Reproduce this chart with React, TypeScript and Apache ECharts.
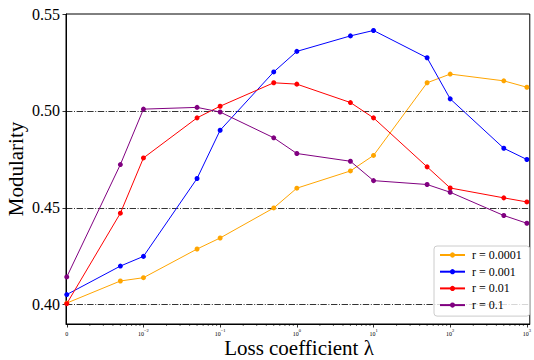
import React, { useEffect, useRef } from 'react';
import * as echarts from 'echarts';

// λ values (0 is drawn at the 10^-3 position of the axis)
const lambdas = [0, 0.005, 0.01, 0.05, 0.1, 0.5, 1, 5, 10, 50, 100, 500, 1000];
const seriesNames = ['r = 0.0001', 'r = 0.001', 'r = 0.01', 'r = 0.1'];
const seriesColors = ['#FFA500', '#0000FF', '#FF0000', '#800080'];
const r0001 = [0.4008, 0.4122, 0.4139, 0.4287, 0.4344, 0.4499, 0.4601, 0.469, 0.477, 0.5145, 0.519, 0.5155, 0.5122];
const r001 = [0.4052, 0.4199, 0.4249, 0.4651, 0.49, 0.5201, 0.5307, 0.5387, 0.5415, 0.5274, 0.5062, 0.4807, 0.4749];
const r01 = [0.4005, 0.4472, 0.4757, 0.4964, 0.5024, 0.5145, 0.5138, 0.5043, 0.4964, 0.4711, 0.4602, 0.4551, 0.453];
const r1 = [0.4143, 0.4723, 0.5009, 0.5018, 0.4994, 0.4861, 0.478, 0.474, 0.464, 0.462, 0.458, 0.446, 0.442];
const allValues = [r0001, r001, r01, r1];

const xTickPositions = [-3, -2, -1, 0, 1, 2, 3];
const xTickExponents = [null, -2, -1, 0, 1, 2, 3];
const yTicks = [0.4, 0.45, 0.5, 0.55];
const refLines = [0.4, 0.45, 0.5];

const X_MIN = -3.01;
const X_MAX = 3.038;
const Y_MIN = 0.39;
const Y_MAX = 0.55;
const SERIF = '"Liberation Serif", "Times New Roman", serif';

const toAxis = (l: number) => (l === 0 ? -3 : Math.log10(l));

const minorTicks: number[] = [];
for (let e = -3; e < 3; e++) {
  for (let k = 2; k <= 9; k++) minorTicks.push(e + Math.log10(k));
}

export default function App() {
  const ref = useRef<HTMLDivElement>(null);
  useEffect(() => {
    if (!ref.current) return;
    const chart = echarts.init(ref.current, null, { renderer: 'svg' });
    const lineSeries: any[] = seriesNames.map((name, i) => ({
      name,
      type: 'line',
      data: lambdas.map((l, j) => [toAxis(l), allValues[i][j]]),
      symbol: 'circle',
      symbolSize: 5,
      itemStyle: { color: seriesColors[i] },
      lineStyle: { color: seriesColors[i], width: 1 },
      z: 3 + i,
      markLine:
        i === 0
          ? {
              silent: true,
              symbol: 'none',
              label: { show: false },
              lineStyle: { color: 'rgba(0,0,0,0.8)', width: 1, type: [6.4, 1.6, 1, 1.6] },
              data: refLines.map((v) => ({ yAxis: v })),
              z: 1,
            }
          : undefined,
    }));
    const option: any = {
      animation: false,
      backgroundColor: '#fff',
      grid: {
        left: 66,
        top: 14,
        right: -1,
        bottom: 36,
        show: true,
        borderColor: '#000',
        borderWidth: 1,
        backgroundColor: 'transparent',
      },
      xAxis: {
        type: 'value',
        min: X_MIN,
        max: X_MAX,
        splitLine: { show: false },
        axisLine: { onZero: false, lineStyle: { color: '#000', width: 1 } },
        axisTick: {
          customValues: xTickPositions,
          length: 3.5,
          lineStyle: { color: '#000', width: 0.8 },
        },
        axisLabel: {
          customValues: xTickPositions,
          margin: 4,
          formatter: (v: number) => {
            const idx = xTickPositions.findIndex((p) => Math.abs(p - v) < 1e-6);
            if (idx < 0) return '';
            const e = xTickExponents[idx];
            if (e === null) return '{b|0}';
            return `{b|10}{s|${e < 0 ? '\u2212' : ''}${Math.abs(e)}}`;
          },
          rich: {
            b: { fontSize: 6, fontFamily: SERIF, color: '#000', lineHeight: 9, verticalAlign: 'bottom' },
            s: { fontSize: 4.5, fontFamily: SERIF, color: '#000', lineHeight: 5, verticalAlign: 'top' },
          },
        },
      },
      yAxis: {
        type: 'value',
        min: Y_MIN,
        max: Y_MAX,
        splitLine: { show: false },
        axisLine: { show: true, onZero: false, lineStyle: { color: '#000', width: 1 } },
        axisTick: {
          show: true,
          customValues: yTicks,
          length: 3.5,
          lineStyle: { color: '#000', width: 0.8 },
        },
        axisLabel: {
          customValues: yTicks,
          margin: 6,
          fontSize: 16,
          fontFamily: SERIF,
          color: '#000',
          formatter: (v: number) => v.toFixed(2),
        },
      },
      legend: {
        data: seriesNames,
        orient: 'vertical',
        left: 434,
        top: 246,
        padding: [3, 8, 5, 5],
        itemGap: 4.7,
        itemWidth: 25,
        itemHeight: 6.5,
        backgroundColor: 'rgba(255,255,255,0.8)',
        borderColor: '#cccccc',
        borderWidth: 1,
        borderRadius: 3,
        textStyle: { fontSize: 12, fontFamily: SERIF, color: '#000', lineHeight: 12, padding: [0, 0, 0, 2] },
      },
      series: [
        ...lineSeries,
        {
          type: 'custom',
          silent: true,
          clip: false,
          data: minorTicks.map((m) => [m, Y_MIN]),
          encode: { x: 0, y: 1 },
          renderItem: (_p: any, api: any) => {
            const pt = api.coord([api.value(0), Y_MIN]);
            return {
              type: 'line',
              shape: { x1: pt[0], y1: pt[1], x2: pt[0], y2: pt[1] + 2 },
              style: { stroke: '#000', lineWidth: 0.6 },
            };
          },
          z: 2,
        },
      ],
      graphic: [
        {
          type: 'text',
          x: 299,
          y: 348,
          style: {
            text: 'Loss coefficient \u03bb',
            font: `21px ${SERIF}`,
            fill: '#000',
            textAlign: 'center',
            textVerticalAlign: 'middle',
          },
        },
        {
          type: 'text',
          x: 16,
          y: 169,
          rotation: Math.PI / 2,
          style: {
            text: 'Modularity',
            font: `21px ${SERIF}`,
            fill: '#000',
            textAlign: 'center',
            textVerticalAlign: 'middle',
          },
        },
      ],
    };
    chart.setOption(option);
    return () => chart.dispose();
  }, []);
  return (
    <div
      ref={ref}
      style={{ position: 'fixed', left: 0, top: 0, width: 534, height: 360, background: '#fff' }}
    />
  );
}
